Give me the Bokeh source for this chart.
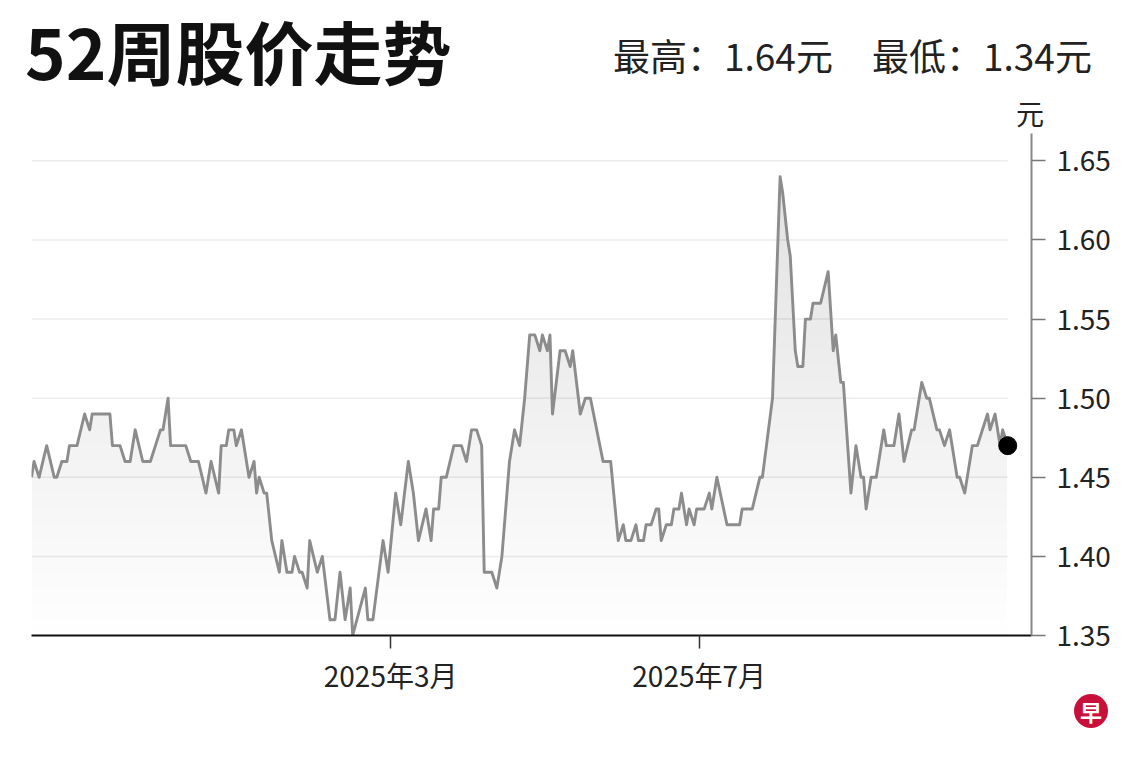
import numpy as np
import pandas as pd
from bokeh.plotting import figure
from bokeh.layouts import column
from bokeh.models import (Range1d, FixedTicker, NumeralTickFormatter, Div,
                          CustomJSTickFormatter, ColumnDataSource)
from bokeh.embed import file_html
from bokeh.resources import INLINE

# ---------------- data ----------------
dates = [
    "2024-10-10", "2024-10-11", "2024-10-13", "2024-10-16", "2024-10-19", "2024-10-20", "2024-10-22",
    "2024-10-24", "2024-10-25", "2024-10-28", "2024-10-31",
    "2024-11-02", "2024-11-03", "2024-11-10", "2024-11-11", "2024-11-14", "2024-11-16", "2024-11-18",
    "2024-11-20", "2024-11-23", "2024-11-26", "2024-11-30",
    "2024-12-01", "2024-12-03", "2024-12-04", "2024-12-10", "2024-12-12", "2024-12-15", "2024-12-18",
    "2024-12-20", "2024-12-23", "2024-12-24", "2024-12-26", "2024-12-27", "2024-12-29", "2024-12-30",
    "2025-01-01", "2025-01-04", "2025-01-06", "2025-01-07", "2025-01-08", "2025-01-10", "2025-01-11",
    "2025-01-13", "2025-01-16", "2025-01-17", "2025-01-19", "2025-01-21", "2025-01-22", "2025-01-24",
    "2025-01-25", "2025-01-27", "2025-01-28", "2025-01-31",
    "2025-02-02", "2025-02-05", "2025-02-07", "2025-02-09", "2025-02-11", "2025-02-13", "2025-02-14",
    "2025-02-19", "2025-02-20", "2025-02-22", "2025-02-26", "2025-02-28",
    "2025-03-03", "2025-03-05", "2025-03-08", "2025-03-10", "2025-03-12", "2025-03-15", "2025-03-17",
    "2025-03-18", "2025-03-20", "2025-03-21", "2025-03-23", "2025-03-26", "2025-03-29", "2025-03-31",
    "2025-04-02", "2025-04-04", "2025-04-06", "2025-04-07", "2025-04-10", "2025-04-12", "2025-04-14",
    "2025-04-17", "2025-04-19", "2025-04-21", "2025-04-23", "2025-04-25", "2025-04-27", "2025-04-29",
    "2025-04-30",
    "2025-05-02", "2025-05-03", "2025-05-04", "2025-05-07", "2025-05-09", "2025-05-11", "2025-05-12",
    "2025-05-15", "2025-05-17", "2025-05-19", "2025-05-24", "2025-05-27", "2025-05-30",
    "2025-06-01", "2025-06-02", "2025-06-04", "2025-06-06", "2025-06-07", "2025-06-09", "2025-06-10",
    "2025-06-12", "2025-06-14", "2025-06-15", "2025-06-16", "2025-06-18", "2025-06-20", "2025-06-21",
    "2025-06-23", "2025-06-24", "2025-06-26", "2025-06-27", "2025-06-29", "2025-06-30",
    "2025-07-03", "2025-07-05", "2025-07-06", "2025-07-08", "2025-07-12", "2025-07-17", "2025-07-18",
    "2025-07-22", "2025-07-25", "2025-07-26", "2025-07-30",
    "2025-08-02", "2025-08-03", "2025-08-05", "2025-08-06", "2025-08-08", "2025-08-09", "2025-08-11",
    "2025-08-12", "2025-08-14", "2025-08-15", "2025-08-18", "2025-08-21", "2025-08-23", "2025-08-24",
    "2025-08-26", "2025-08-27", "2025-08-30",
    "2025-09-01", "2025-09-03", "2025-09-04", "2025-09-05", "2025-09-07", "2025-09-09", "2025-09-12",
    "2025-09-13", "2025-09-16", "2025-09-18", "2025-09-20", "2025-09-23", "2025-09-24", "2025-09-27",
    "2025-09-29", "2025-09-30",
    "2025-10-03", "2025-10-04", "2025-10-06", "2025-10-08", "2025-10-11", "2025-10-12", "2025-10-14",
    "2025-10-17", "2025-10-19", "2025-10-23", "2025-10-24", "2025-10-26", "2025-10-28", "2025-10-29",
    "2025-10-31",
]

prices = [
    1.45, 1.46, 1.45, 1.47, 1.45, 1.45, 1.46, 1.46, 1.47, 1.47, 1.49,
    1.48, 1.49, 1.49, 1.47, 1.47, 1.46, 1.46, 1.48, 1.46, 1.46, 1.48,
    1.48, 1.50, 1.47, 1.47, 1.46, 1.46, 1.44, 1.46, 1.44, 1.47, 1.47, 1.48, 1.48, 1.47,
    1.48, 1.45, 1.46, 1.44, 1.45, 1.44, 1.44, 1.41, 1.39, 1.41, 1.39, 1.39, 1.40, 1.39,
    1.39, 1.38, 1.41, 1.39,
    1.40, 1.36, 1.36, 1.39, 1.36, 1.38, 1.35, 1.38, 1.36, 1.36, 1.41, 1.39,
    1.44, 1.42, 1.46, 1.44, 1.41, 1.43, 1.41, 1.43, 1.43, 1.45, 1.45, 1.47, 1.47, 1.46,
    1.48, 1.48, 1.47, 1.39, 1.39, 1.38, 1.40, 1.46, 1.48, 1.47, 1.50, 1.54, 1.54, 1.53, 1.54,
    1.53, 1.54, 1.49, 1.53, 1.53, 1.52, 1.53, 1.49, 1.50, 1.50, 1.46, 1.46, 1.41,
    1.42, 1.41, 1.41, 1.42, 1.41, 1.41, 1.42, 1.42, 1.43, 1.43, 1.41, 1.42, 1.42, 1.43,
    1.43, 1.44, 1.42, 1.43, 1.42, 1.43,
    1.43, 1.44, 1.43, 1.45, 1.42, 1.42, 1.43, 1.43, 1.45, 1.45, 1.50,
    1.64, 1.63, 1.60, 1.59, 1.53, 1.52, 1.52, 1.55, 1.55, 1.56, 1.56, 1.58, 1.53, 1.54,
    1.51, 1.51, 1.44,
    1.47, 1.45, 1.45, 1.43, 1.45, 1.45, 1.48, 1.47, 1.47, 1.49, 1.46, 1.48, 1.48, 1.51,
    1.50, 1.50,
    1.48, 1.48, 1.47, 1.48, 1.45, 1.45, 1.44, 1.47, 1.47, 1.49, 1.48, 1.49, 1.47, 1.48,
    1.47,
]

y_ticks = [1.35, 1.40, 1.45, 1.50, 1.55, 1.60, 1.65]
x_tick_dates = ["2025-03-01", "2025-07-01"]
x_tick_labels = ["2025年3月", "2025年7月"]

title_text = "52周股价走势"
high_text = "最高：1.64元"
low_text = "最低：1.34元"
unit_text = "元"
logo_text = "早"

FONT = "Noto Sans CJK SC"
W = 1124
HEAD_H, MAIN_H, FOOT_H = 130, 567, 47


def span(text, left, top, size, weight=400, color="#222222"):
    return (f'<span style="position:absolute;left:{left}px;top:{top}px;'
            f"font-family:'{FONT}';font-size:{size}px;line-height:{size}px;"
            f'font-weight:{weight};color:{color};white-space:nowrap;">{text}</span>')


# ---------------- header ----------------
head_html = (f'<div style="position:relative;width:{W}px;height:{HEAD_H}px;overflow:visible;">'
             + span(title_text, 25, 16, 69, weight=700, color="#111111")
             + span(high_text, 613, 37, 37)
             + span(low_text, 872, 37, 37)
             + span(unit_text, 1016, 99, 28)
             + '</div>')
head = Div(text=head_html, width=W, height=HEAD_H, margin=(0, 0, 0, 0))

# ---------------- main chart ----------------
dt = pd.to_datetime(dates)
vals = np.array(prices)

x_start = dt[0].to_pydatetime()
x_end = (dt[-1] + pd.Timedelta(days=9.4)).to_pydatetime()

p = figure(width=W, height=MAIN_H, output_backend="svg", toolbar_location=None,
           x_axis_type="datetime", y_axis_location="right",
           x_range=Range1d(x_start, x_end), y_range=Range1d(1.35, 1.6673),
           min_border_left=31, min_border_right=93,
           min_border_top=3, min_border_bottom=MAIN_H - 3 - 502)
p.outline_line_color = None
p.xgrid.visible = False
p.ygrid.visible = False
p.background_fill_color = "white"
p.border_fill_color = "white"

# gridlines spanning the data only
n_grid = len(y_ticks) - 1
grid_src = ColumnDataSource(dict(x0=[dt[0]] * n_grid, x1=[dt[-1]] * n_grid, y=y_ticks[1:]))
p.segment(x0="x0", x1="x1", y0="y", y1="y", source=grid_src,
          line_color="#ececec", line_width=1.5)

# vertical gradient fill approximated by stacked translucent bands
for L in np.arange(1.35, 1.645, 0.01):
    p.varea(x=dt, y1=L, y2=np.maximum(vals, L), fill_color="black", fill_alpha=0.0045)

p.line(dt, vals, line_color="#8c8c8c", line_width=2.9, line_join="round")
p.scatter([dt[-1]], [vals[-1]], size=18, color="black")

# x axis
tick_ms = [pd.Timestamp(d).value / 1e6 for d in x_tick_dates]
p.xaxis.ticker = FixedTicker(ticks=tick_ms)
p.xaxis.formatter = CustomJSTickFormatter(
    args=dict(tick_vals=tick_ms, tick_labels=x_tick_labels),
    code="const i = tick_vals.indexOf(tick); return i >= 0 ? tick_labels[i] : '';")
p.xaxis.axis_line_color = "#111111"
p.xaxis.axis_line_width = 2
p.xaxis.major_tick_line_color = "#333333"
p.xaxis.major_tick_line_width = 1.5
p.xaxis.major_tick_out = 13
p.xaxis.major_tick_in = 0
p.xaxis.minor_tick_line_color = None
p.xaxis.major_label_text_font = FONT
p.xaxis.major_label_text_font_size = "28px"
p.xaxis.major_label_text_color = "#222222"
p.xaxis.major_label_standoff = 6

# y axis (right)
p.yaxis.ticker = FixedTicker(ticks=y_ticks)
p.yaxis.formatter = NumeralTickFormatter(format="0.00")
p.yaxis.axis_line_color = "#888888"
p.yaxis.axis_line_width = 2
p.yaxis.major_tick_line_color = "#777777"
p.yaxis.major_tick_line_width = 1.5
p.yaxis.major_tick_out = 14
p.yaxis.major_tick_in = 0
p.yaxis.minor_tick_line_color = None
p.yaxis.major_label_text_font = FONT
p.yaxis.major_label_text_font_size = "28px"
p.yaxis.major_label_text_color = "#222222"
p.yaxis.major_label_standoff = 11

# ---------------- footer with logo ----------------
logo_html = (f'<div style="position:relative;width:{W}px;height:{FOOT_H}px;overflow:visible;">'
             f'<span style="position:absolute;left:1074px;top:-3px;width:34px;height:34px;'
             f'border-radius:17px;background:#c8103a;color:#ffffff;'
             f"font-family:'{FONT}';font-weight:700;font-size:22px;line-height:34px;"
             f'text-align:center;">{logo_text}</span></div>')
foot = Div(text=logo_html, width=W, height=FOOT_H, margin=(0, 0, 0, 0))

layout = column(head, p, foot, spacing=0)
open("out.html", "w").write(file_html(layout, INLINE))
